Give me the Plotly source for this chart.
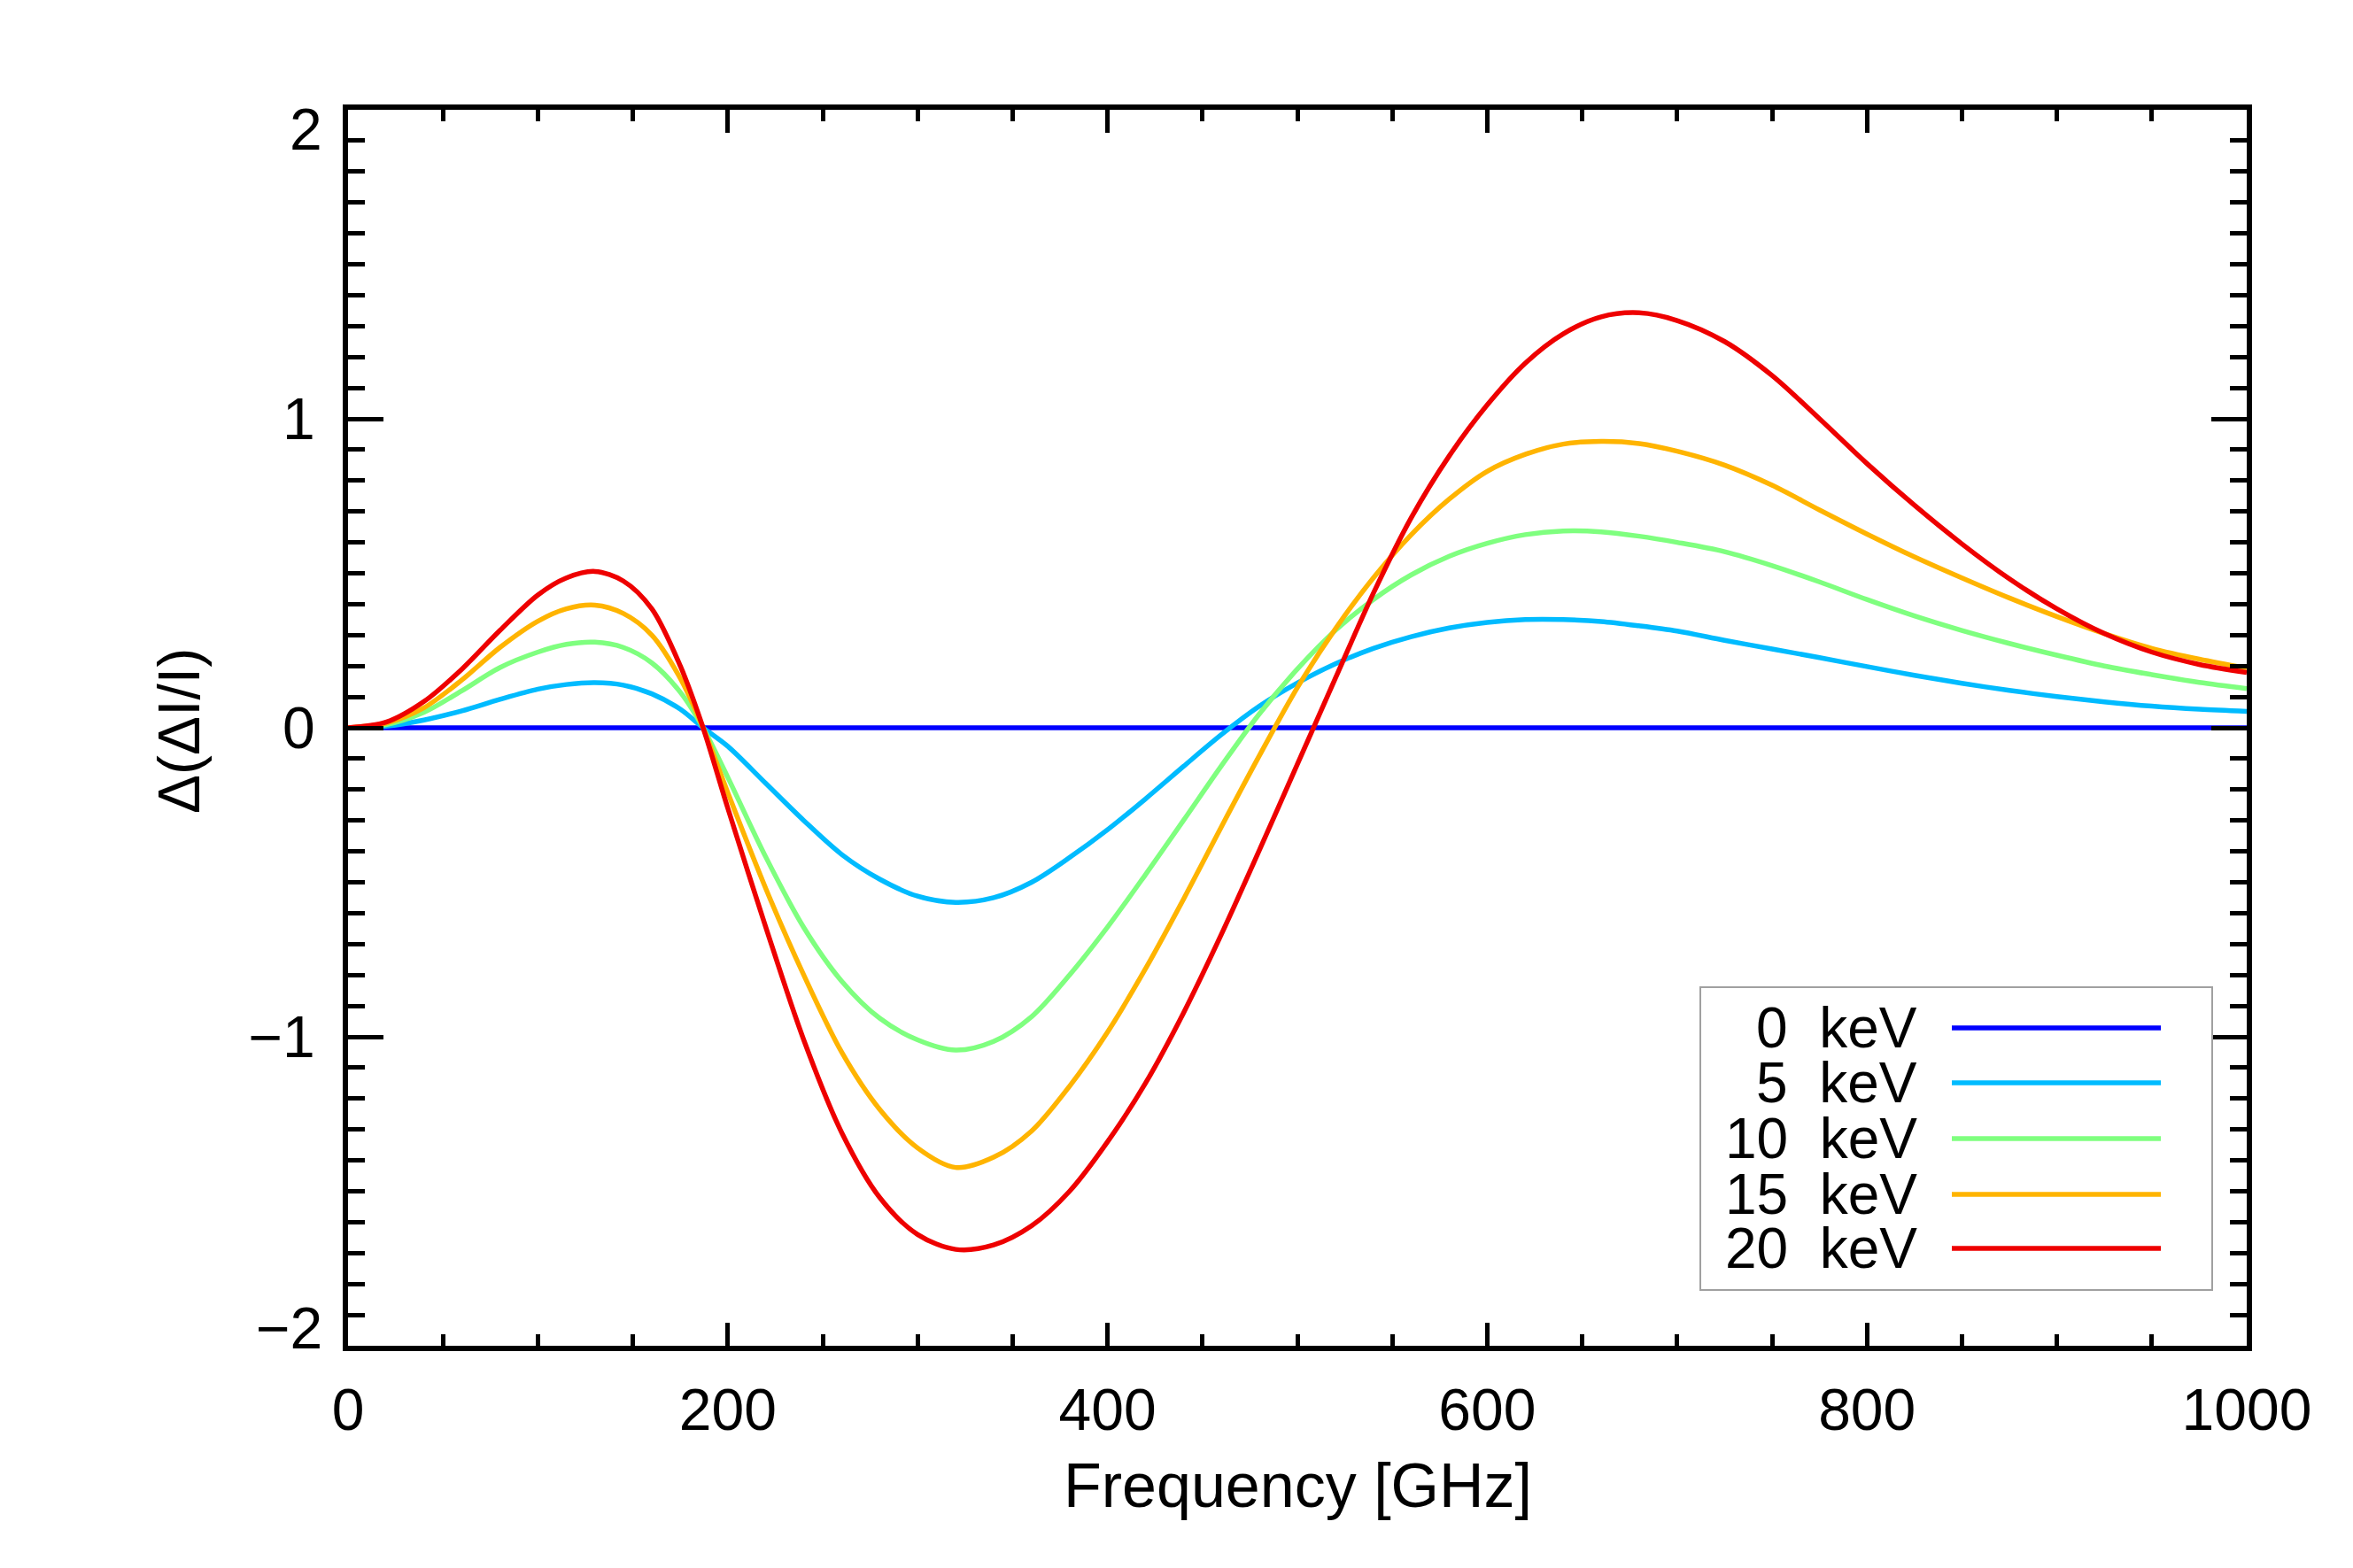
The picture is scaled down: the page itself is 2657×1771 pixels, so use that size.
import plotly.graph_objects as go

# ---- data ----
freq_ghz = [0, 20, 40, 60, 80, 100, 115, 130, 145, 160, 175, 187, 200, 220, 240, 260, 280,
            300, 320, 340, 360, 380, 400, 420, 440, 460, 480, 500, 520, 540, 560, 580, 600,
            620, 640, 660, 680, 700, 725, 750, 775, 800, 825, 850, 875, 900, 925, 950, 975,
            1000]

kev_0 = [0.0] * len(freq_ghz)

kev_5 = [0.0, 0.005, 0.025, 0.055, 0.092, 0.125, 0.14, 0.146, 0.138, 0.11, 0.06, 0.0,
         -0.06, -0.18, -0.30, -0.41, -0.49, -0.545, -0.565, -0.55, -0.50, -0.42, -0.33,
         -0.23, -0.125, -0.022, 0.07, 0.145, 0.207, 0.257, 0.295, 0.323, 0.341, 0.35, 0.35,
         0.344, 0.330, 0.313, 0.283, 0.255, 0.227, 0.198, 0.17, 0.144, 0.121, 0.101, 0.084,
         0.07, 0.06, 0.053]

kev_10 = [0.0, 0.01, 0.05, 0.12, 0.195, 0.245, 0.27, 0.277, 0.26, 0.21, 0.115, 0.0,
          -0.16, -0.418, -0.646, -0.82, -0.94, -1.01, -1.043, -1.015, -0.935, -0.80, -0.645,
          -0.475, -0.30, -0.123, 0.045, 0.19, 0.315, 0.415, 0.495, 0.555, 0.597, 0.625,
          0.637, 0.634, 0.62, 0.60, 0.57, 0.525, 0.472, 0.415, 0.362, 0.315, 0.273, 0.235,
          0.20, 0.172, 0.147, 0.127]

kev_15 = [0.0, 0.015, 0.065, 0.155, 0.26, 0.345, 0.385, 0.397, 0.37, 0.30, 0.16, 0.0,
          -0.21, -0.52, -0.80, -1.05, -1.235, -1.36, -1.423, -1.39, -1.305, -1.16, -0.985,
          -0.78, -0.555, -0.32, -0.09, 0.13, 0.32, 0.485, 0.625, 0.74, 0.83, 0.885, 0.918,
          0.927, 0.92, 0.895, 0.85, 0.785, 0.705, 0.627, 0.553, 0.485, 0.42, 0.36, 0.305,
          0.257, 0.222, 0.193]

kev_20 = [0.0, 0.018, 0.085, 0.19, 0.315, 0.43, 0.485, 0.506, 0.475, 0.385, 0.20, 0.0,
          -0.26, -0.645, -1.01, -1.31, -1.52, -1.64, -1.688, -1.674, -1.612, -1.50, -1.34,
          -1.15, -0.923, -0.668, -0.396, -0.118, 0.16, 0.435, 0.68, 0.88, 1.045, 1.18,
          1.275, 1.33, 1.343, 1.318, 1.25, 1.14, 1.0, 0.855, 0.72, 0.595, 0.482, 0.385,
          0.305, 0.245, 0.205, 0.179]

series_names = ["0", "5", "10", "15", "20"]
series_values = [kev_0, kev_5, kev_10, kev_15, kev_20]
series_colors = ["#0000FF", "#00BBFF", "#7FFF7F", "#FFB400", "#EE0000"]

x_tick_vals = [0, 200, 400, 600, 800, 1000]
y_tick_vals = [-2, -1, 0, 1, 2]
y_tick_text = ["", "\u22121", "0", "1", ""]

FONT = "Liberation Sans"
W, H = 2657, 1771
ML, MR, MT, MB = 393, 120, 124, 251
PW, PH = W - ML - MR, H - MT - MB

fig = go.Figure()
for name, vals, col in zip(series_names, series_values, series_colors):
    fig.add_trace(go.Scatter(x=freq_ghz, y=vals, mode="lines", name=f"{name} keV",
                             line=dict(color=col, width=5.5, shape="spline", smoothing=0.9),
                             showlegend=False))

axis_common = dict(showline=True, linewidth=6, linecolor="black", mirror="allticks",
                   ticks="inside", tickwidth=5, tickcolor="black", showgrid=False,
                   zeroline=False, tickfont=dict(family=FONT, size=66, color="black"))

fig.update_xaxes(range=[0, 1000], tickvals=x_tick_vals, ticklen=26,
                 minor=dict(dtick=50, ticklen=13, tickwidth=5, tickcolor="black",
                            ticks="inside", showgrid=False),
                 ticklabelstandoff=10, **axis_common)
fig.update_yaxes(range=[-2, 2], tickvals=y_tick_vals, ticktext=y_tick_text, ticklen=40,
                 minor=dict(dtick=0.1, ticklen=19, tickwidth=5, tickcolor="black",
                            ticks="inside", showgrid=False),
                 ticklabelstandoff=18, **axis_common)

def px_x(px):
    return (px - ML) / PW

def px_y(py):
    return (H - MB - py) / PH

annotations = []
# end labels of the y axis (drawn shifted inward, as in the reference)
annotations.append(dict(x=0, xref="paper", y=2, yref="y", text="2", showarrow=False,
                        xanchor="right", yanchor="middle", xshift=-27, yshift=-22,
                        font=dict(family=FONT, size=66, color="black")))
annotations.append(dict(x=0, xref="paper", y=-2, yref="y", text="\u22122", showarrow=False,
                        xanchor="right", yanchor="middle", xshift=-27, yshift=20,
                        font=dict(family=FONT, size=66, color="black")))
# axis titles
annotations.append(dict(x=0.5, xref="paper", y=px_y(1678), yref="paper",
                        text="Frequency [GHz]", showarrow=False, xanchor="center",
                        yanchor="middle", font=dict(family=FONT, size=70, color="black")))
annotations.append(dict(x=px_x(202), xref="paper", y=px_y(826), yref="paper",
                        text="\u0394(\u0394I/I)", showarrow=False, textangle=-90,
                        xanchor="center", yanchor="middle",
                        font=dict(family=FONT, size=66, color="black")))

shapes = []
# legend box (text on the left, line sample on the right, as in the reference)
shapes.append(dict(type="rect", xref="paper", yref="paper", x0=px_x(1920), x1=px_x(2498),
                   y0=px_y(1457), y1=px_y(1115), line=dict(color="#A0A0A0", width=2),
                   fillcolor="white", layer="above"))
row_y = [1161, 1223, 1286, 1349, 1410]
for name, col, ry in zip(series_names, series_colors, row_y):
    shapes.append(dict(type="line", xref="paper", yref="paper", x0=px_x(2204), x1=px_x(2440),
                       y0=px_y(ry), y1=px_y(ry), line=dict(color=col, width=5.5),
                       layer="above"))
    annotations.append(dict(x=px_x(2166), xref="paper", y=px_y(ry), yref="paper",
                            text=f"{name}\u00a0\u00a0keV", showarrow=False,
                            xanchor="right", yanchor="middle", borderpad=0,
                            font=dict(family=FONT, size=64, color="black")))

fig.update_layout(width=W, height=H, margin=dict(l=ML, r=MR, t=MT, b=MB, autoexpand=False),
                  paper_bgcolor="white", plot_bgcolor="white", showlegend=False,
                  annotations=annotations, shapes=shapes,
                  font=dict(family=FONT, size=66, color="black"))

fig.write_html("out.html")
